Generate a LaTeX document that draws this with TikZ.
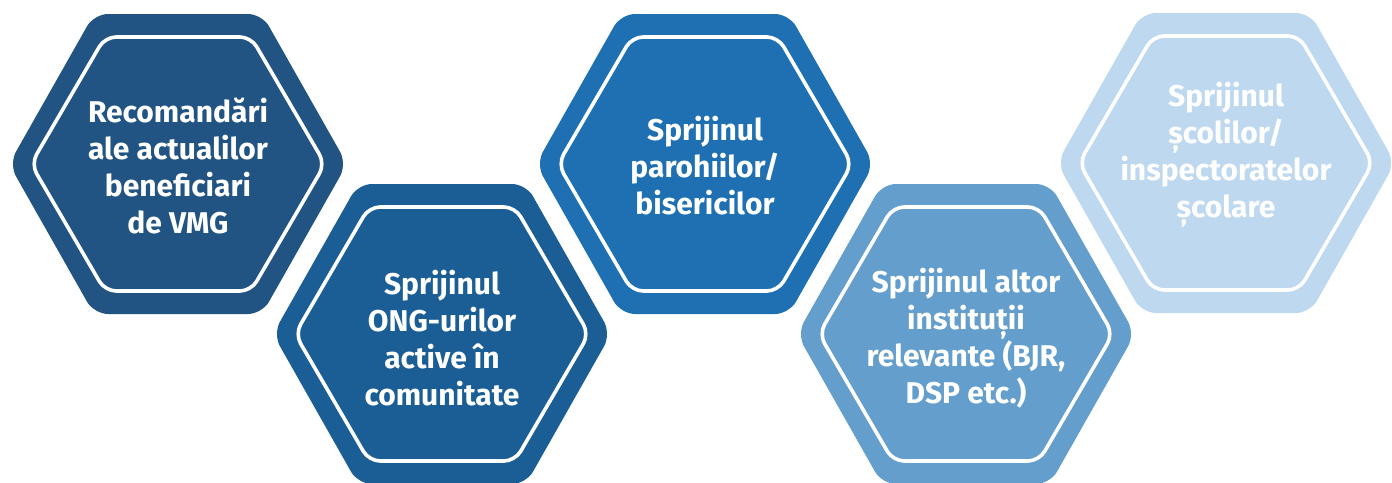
\documentclass[tikz,border=0pt]{standalone}
\usepackage{fontspec}
\setmainfont{Fira Sans}
\definecolor{hexA}{HTML}{215482}
\definecolor{hexB}{HTML}{1B5E96}
\definecolor{hexC}{HTML}{1E70B2}
\definecolor{hexD}{HTML}{649ECD}
\definecolor{hexE}{HTML}{BED8F0}
\begin{document}
\begin{tikzpicture}[x=1pt,y=-1pt,%
pics/hexcell/.style={code={
\fill[#1,rounded corners=14] (-169,0) -- (-84,-150) -- (84,-150) -- (169,0)
  -- (84,150) -- (-84,150) -- cycle;
\draw[white,line width=3.6,rounded corners=11] (-147,0) -- (-73,-127)
  -- (73,-127) -- (147,0) -- (73,127) -- (-73,127) -- cycle;}},%
every node/.style={text=white, inner sep=0pt, align=center,
font=\fontsize{30}{37}\selectfont\bfseries}]
\useasboundingbox (0,0) rectangle (1392,482);
\pic at (178,164) {hexcell=hexA};
\pic at (442,334) {hexcell=hexB};
\pic at (705,164) {hexcell=hexC};
\pic at (966,334) {hexcell=hexD};
\pic at (1226,163) {hexcell=hexE};
\node (recom) at (178,166) {Recomandări\\ale actualilor\\beneficiari\\de VMG};
\node (ong) at (442,338) {Sprijinul\\ONG-urilor\\active în\\comunitate};
\node (parohii) at (705,166) {Sprijinul\\parohiilor/\\bisericilor};
\node (instit) at (966,338) {Sprijinul altor\\instituții\\relevante (BJR,\\DSP etc.)};
\node (scoli) at (1226,155) {Sprijinul\\școlilor/\\inspectoratelor\\școlare};
\end{tikzpicture}
\end{document}
